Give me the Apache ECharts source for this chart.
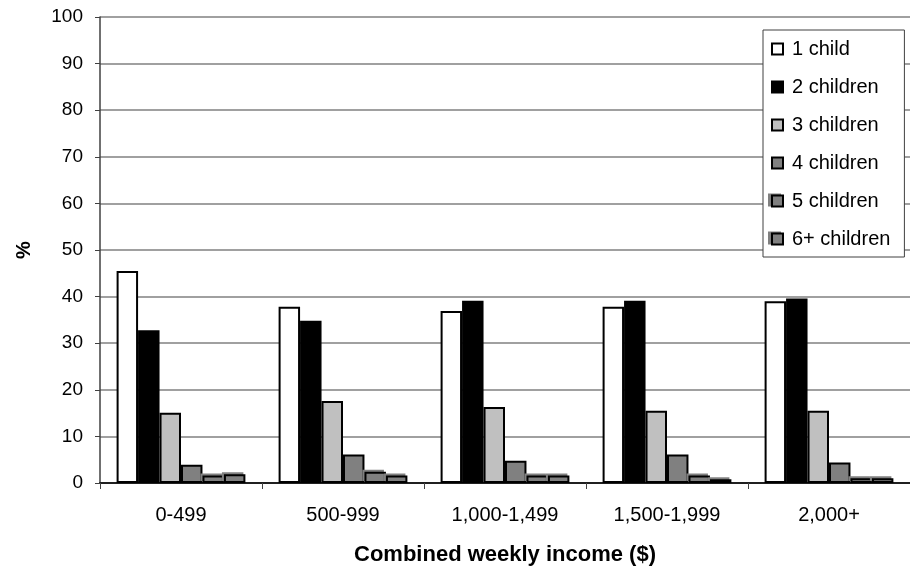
<!DOCTYPE html>
<html>
<head>
<meta charset="utf-8">
<script src="https://cdn.jsdelivr.net/npm/echarts@6/dist/echarts.min.js"></script>
<style>
  html, body { margin: 0; padding: 0; background: #fff; }
  #chart { width: 910px; height: 571px; }
</style>
</head>
<body>
<div id="chart"></div>
<script>
// Income bands along the x axis
const incomeBands = ['0-499', '500-999', '1,000-1,499', '1,500-1,999', '2,000+'];

// Share of families (%) by number of children, per income band
const oneChild      = [45.5, 37.8, 36.9, 37.8, 39.0];
const twoChildren   = [32.8, 34.8, 39.1, 39.1, 39.6];
const threeChildren = [15.1, 17.6, 16.3, 15.5, 15.5];
const fourChildren  = [3.9, 6.1, 4.8, 6.1, 4.4];
const fiveChildren  = [1.6, 2.4, 1.6, 1.6, 1.0];
const sixPlusChildren = [1.9, 1.6, 1.6, 0.8, 1.0];

const yTicks = { min: 0, max: 100, interval: 10 };

const seriesDefs = [
  { name: '1 child', data: oneChild, color: '#ffffff' },
  { name: '2 children', data: twoChildren, color: '#000000' },
  { name: '3 children', data: threeChildren, color: '#c0c0c0' },
  { name: '4 children', data: fourChildren, color: '#808080' },
  { name: '5 children', data: fiveChildren, color: '#808080', offset: true },
  { name: '6+ children', data: sixPlusChildren, color: '#808080', offset: true }
];

const font = 'Arial, "Liberation Sans", sans-serif';

// grey offset copy drawn behind the patterned bars
const offsetShadow = { shadowColor: '#808080', shadowBlur: 0, shadowOffsetX: -2, shadowOffsetY: -2 };

const chart = echarts.init(document.getElementById('chart'), null, { renderer: 'canvas' });

chart.setOption({
  animation: false,
  backgroundColor: '#ffffff',
  grid: { left: 100, top: 17, width: 817, height: 467, containLabel: false },
  legend: {
    orient: 'vertical',
    left: 763,
    top: 30,
    padding: [9, 14, 8, 8],
    backgroundColor: '#ffffff',
    borderColor: '#404040',
    borderWidth: 1,
    itemWidth: 11,
    itemHeight: 11,
    itemGap: 18,
    icon: 'rect',
    textStyle: { fontFamily: font, fontSize: 20, color: '#000', lineHeight: 20, padding: [0, 0, 0, 4] },
    data: seriesDefs.map(s => s.offset
      ? { name: s.name, itemStyle: { shadowColor: '#808080', shadowBlur: 0, shadowOffsetX: -3, shadowOffsetY: -1 } }
      : { name: s.name })
  },
  xAxis: {
    type: 'category',
    data: incomeBands,
    name: 'Combined weekly income ($)',
    nameLocation: 'middle',
    nameGap: 61,
    nameTextStyle: { fontFamily: font, fontSize: 22, fontWeight: 'bold', color: '#000' },
    axisLine: { lineStyle: { color: '#202020', width: 2 } },
    axisTick: { show: true, length: 6, lineStyle: { color: '#404040' } },
    axisLabel: { fontFamily: font, fontSize: 20, color: '#000', margin: 22 },
    splitLine: { show: false }
  },
  yAxis: {
    type: 'value',
    min: yTicks.min,
    max: yTicks.max,
    interval: yTicks.interval,
    name: '%',
    nameLocation: 'middle',
    nameGap: 66,
    nameRotate: 90,
    nameTextStyle: { fontFamily: font, fontSize: 20, fontWeight: 'bold', color: '#000' },
    axisLine: { show: true, lineStyle: { color: '#404040', width: 1.5 } },
    axisTick: { show: true, length: 5, lineStyle: { color: '#404040' } },
    axisLabel: { fontFamily: font, fontSize: 19, color: '#000', margin: 17 },
    splitLine: { show: true, lineStyle: { color: '#808080', width: 1.5 } }
  },
  series: seriesDefs.map(s => ({
    name: s.name,
    type: 'bar',
    data: s.data,
    barGap: '0%',
    barCategoryGap: '20.5%',
    itemStyle: Object.assign({
      color: s.color,
      borderColor: '#000',
      borderWidth: 2
    }, s.offset ? offsetShadow : {})
  }))
});
</script>
</body>
</html>
